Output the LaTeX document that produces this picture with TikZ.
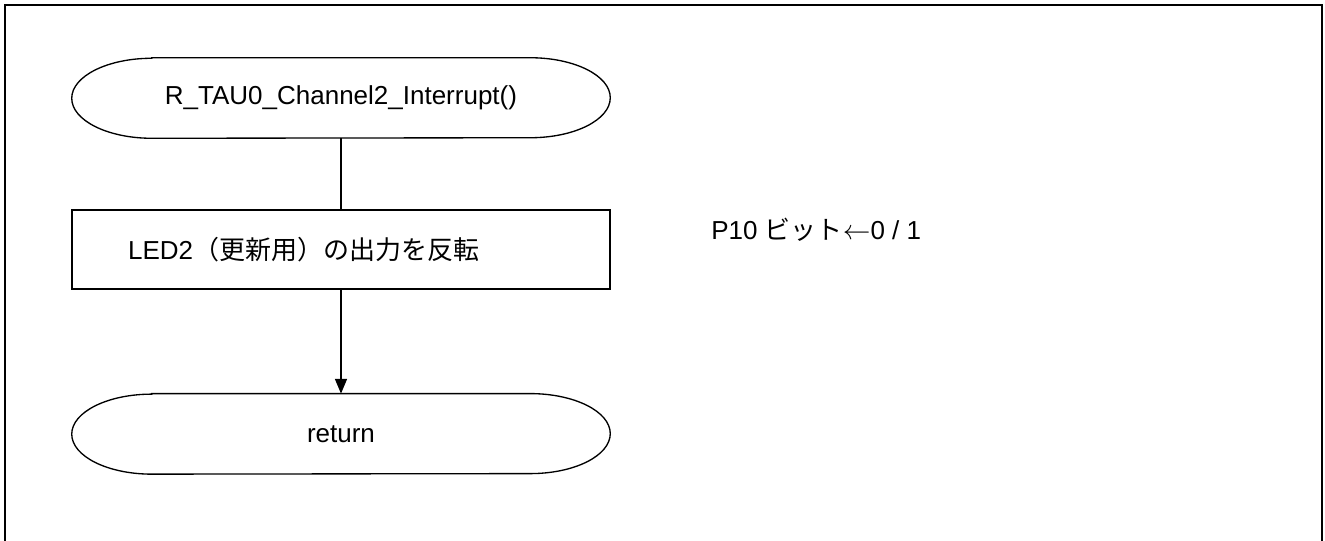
\documentclass[tikz,border=0pt]{standalone}
\usepackage{fontspec}
\setmainfont{Liberation Sans}
\newfontfamily\jp{Noto Sans CJK JP}
\usetikzlibrary{positioning, calc, arrows.meta}

\begin{document}
\begin{tikzpicture}
        [
        x=0.75pt, y=-0.75pt,
        every node/.style = {font=\fontsize{19.5}{23}\selectfont},
        term/.style = {minimum width=403.5pt, minimum height=60pt, inner sep=0pt},
        proc/.style = {draw, line width=1pt, minimum width=403.5pt, minimum height=59.25pt, inner sep=0pt},
        flow/.style = {line width=1pt}
        ]
    \useasboundingbox (0,0) rectangle (1325,540);
    \draw[line width=1.8pt] (5,545) -- (5,5) -- (1322,5) -- (1322,545);

    \node[term] (start) at (341,98) {R\_TAU0\_Channel2\_Interrupt()};
    \node[proc, below=53.25pt of start] (led) {LED2{\jp（更新用）の出力を反転}\hspace*{56pt}};
    \node[term, below=78pt of led] (ret) {return};
    \node[right=72pt of led, yshift=15pt] (note) {P10 {\jp ビット}$\leftarrow$0 / 1};

    \foreach \t in {start, ret}
        \draw[flow] ($(\t.north west)+(80,0)$) -- ($(\t.north east)+(-80,0)$)
            arc[start angle=90, end angle=-90, x radius=60pt, y radius=30pt]
            -- ($(\t.south west)+(80,0)$)
            arc[start angle=270, end angle=90, x radius=60pt, y radius=30pt] -- cycle;

    \draw[flow] (start) -- (led);
    \draw[flow, -{Triangle[width=9pt, length=11pt]}] (led) -- (ret);
    \end{tikzpicture}
\end{document}
